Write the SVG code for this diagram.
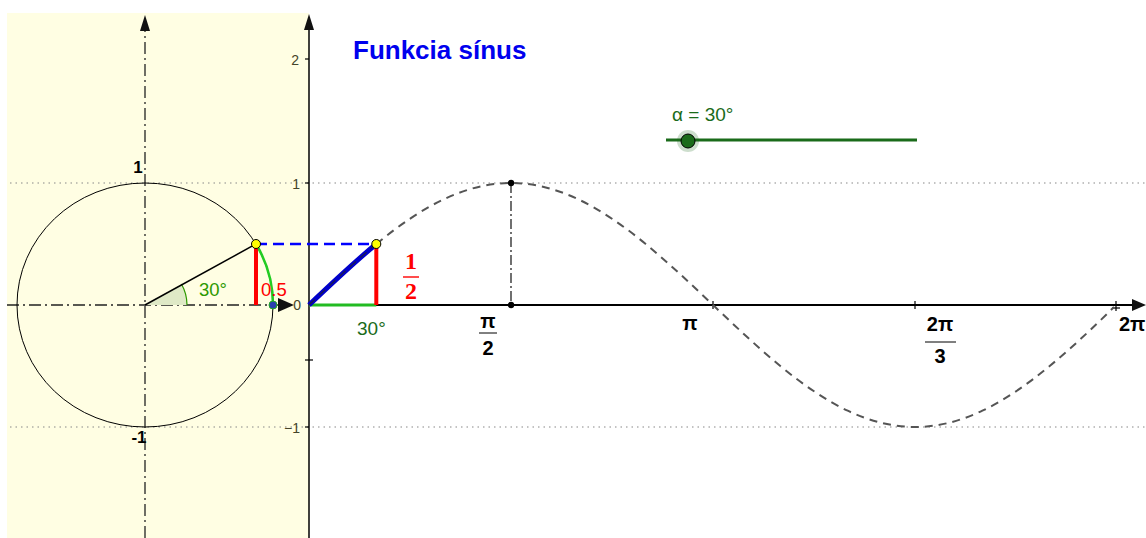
<svg xmlns="http://www.w3.org/2000/svg" width="1146" height="538" viewBox="0 0 1146 538">
<style>
.sans{font-family:"Liberation Sans",Arial,sans-serif}
.serif{font-family:"Liberation Serif","Times New Roman",serif}
.dot{stroke:#888;stroke-width:1.2;stroke-dasharray:1.5 4;fill:none}
.dashdot{stroke:#222;stroke-width:1.3;stroke-dasharray:12 4 2 4;fill:none}
.tick{stroke:#000;stroke-width:1.2}
.ylab{font-size:14px;fill:#44442a}
.xlab{font-size:20px;font-weight:bold;fill:#000}
.sine{fill:none;stroke:#555;stroke-width:2;stroke-dasharray:8 6}
</style>
<rect x="0" y="0" width="1146" height="538" fill="#fff"/>
<g id="unit-circle-panel">
<rect x="7" y="13" width="302" height="525" fill="#fffee3"/>
</g>
<g id="gridlines">
<line class="dot" x1="10" y1="183" x2="1146" y2="183"/>
<line class="dot" x1="10" y1="427" x2="1146" y2="427"/>
</g>
<g id="circle-axes">
<line class="dashdot" x1="7" y1="305" x2="280" y2="305"/>
<path d="M278,298 L294,305 L278,312 z" fill="#111"/>
<line class="dashdot" x1="145" y1="538" x2="145" y2="28"/>
<path d="M140,31 L145,15 L150,31 z" fill="#111"/>
<text class="sans" x="138" y="173" font-size="17" font-weight="bold" text-anchor="middle">1</text>
<text class="sans" x="139" y="443" font-size="17" font-weight="bold" text-anchor="middle">-1</text>
</g>
<g id="main-axes">
<line x1="309" y1="538" x2="309" y2="20" stroke="#000" stroke-width="1.5"/>
<path d="M304,30 L309,14 L314,30 z" fill="#111"/>
<line x1="309" y1="305" x2="1140" y2="305" stroke="#000" stroke-width="1.8"/>
<path d="M1132,299 L1146,305 L1132,311 z" fill="#111"/>
<line class="tick" x1="305" y1="59" x2="309" y2="59"/>
<line class="tick" x1="305" y1="183" x2="309" y2="183"/>
<line class="tick" x1="305" y1="427" x2="309" y2="427"/>
<line class="tick" x1="305" y1="360" x2="313" y2="360"/>
<text class="sans ylab" x="299" y="65" text-anchor="end">2</text>
<text class="sans ylab" x="300" y="189" text-anchor="end">1</text>
<text class="sans ylab" x="301" y="310" text-anchor="end">0</text>
<text class="sans ylab" x="300" y="433" text-anchor="end">−1</text>
<line class="tick" x1="713" y1="301" x2="713" y2="309"/>
<line class="tick" x1="915" y1="301" x2="915" y2="309"/>
<line class="tick" x1="1116" y1="301" x2="1116" y2="311"/>
<line class="tick" x1="1112" y1="308" x2="1120" y2="308"/>
<g id="label-pi-2">
<text class="sans xlab" x="488" y="328" text-anchor="middle">π</text>
<line x1="479" y1="333" x2="497" y2="333" stroke="#000" stroke-width="1"/>
<text class="sans xlab" x="488" y="355" text-anchor="middle">2</text>
</g>
<text id="label-pi" class="sans xlab" x="690" y="330" text-anchor="middle">π</text>
<g id="label-2pi-3">
<text class="sans xlab" x="940" y="331" text-anchor="middle">2π</text>
<line x1="925" y1="342" x2="956" y2="342" stroke="#000" stroke-width="1"/>
<text class="sans xlab" x="940" y="363" text-anchor="middle">3</text>
</g>
<text id="label-2pi" class="sans xlab" x="1119" y="331">2π</text>
</g>
<g id="connectors">
<ellipse cx="145" cy="305" rx="128" ry="122" fill="none" stroke="#000" stroke-width="1"/>
<path d="M145,305 L187,305 A42 42 0 0 0 181.4 284 Z" fill="#dfe9c6"/>
<path d="M187,305 A42 42 0 0 0 181.4 284" fill="none" stroke="#2e9900" stroke-width="1.2"/>
<line x1="145" y1="305" x2="256" y2="244" stroke="#000" stroke-width="1.5"/>
<path d="M256,244 A128 122 0 0 1 273 305" fill="none" stroke="#22cc22" stroke-width="2.5"/>
<line x1="256" y1="244" x2="256" y2="305" stroke="#ff0000" stroke-width="4"/>
<line x1="256" y1="244" x2="376.3" y2="244" stroke="#0000ff" stroke-width="2.5" stroke-dasharray="11 6"/>
<path class="sine" d="M376.3,244 C398.7,225.56 421.3,209.95 443.7,199.3 C466.1,188.65 488.6,183 511,183 C533.4,183 555.9,188.65 578.3,199.3 C600.7,209.95 623.3,225.56 645.7,244 C668.1,262.44 690.6,283.71 713,305 C735.4,326.29 757.9,347.56 780.3,366 C802.7,384.44 825.3,400.05 847.7,410.7 C870.1,421.35 892.6,427 915,427 C937.4,427 960,421.35 982.4,410.7 C1004.8,400.05 1027.3,384.44 1049.7,366 C1072.1,347.56 1094.6,326.29 1114,307"/>
<line x1="511" y1="183" x2="511" y2="305" stroke="#111" stroke-width="1.2" stroke-dasharray="10 3 2 3"/>
<line x1="309" y1="305" x2="376.3" y2="305" stroke="#22bb22" stroke-width="3"/>
<path d="M309,305 C331.4,283.71 353.9,262.44 376.3,244" fill="none" stroke="#0000cc" stroke-width="5"/>
<path d="M309,305 C331.4,283.71 353.9,262.44 376.3,244" fill="none" stroke="#1a1a55" stroke-width="1.5" stroke-dasharray="8 6"/>
<line x1="376.3" y1="244" x2="376.3" y2="305" stroke="#ff0000" stroke-width="4"/>
</g>
<g id="points">
<circle cx="511" cy="183" r="3.2" fill="#000"/>
<circle cx="511" cy="305" r="3.2" fill="#000"/>
<circle cx="273" cy="305" r="4" fill="#2a3fb0" stroke="#22aa22" stroke-width="1"/>
<circle cx="256" cy="244" r="4.5" fill="#ffff00" stroke="#000" stroke-width="1"/>
<circle cx="376.3" cy="244" r="4.5" fill="#ffff00" stroke="#000" stroke-width="1"/>
</g>
<g id="labels">
<text class="sans" x="353" y="59" font-size="26" font-weight="bold" fill="#0000ee">Funkcia sínus</text>
<text class="sans" x="199" y="296" font-size="18.5" fill="#2e9900">30°</text>
<text class="sans" x="261" y="296" font-size="18.5" fill="#ff0000">0.5</text>
<text class="sans" x="357" y="335" font-size="19" fill="#1a6b1a">30°</text>
<text class="serif" x="411" y="269" font-size="24" font-weight="bold" fill="#ff0000" text-anchor="middle">1</text>
<line x1="403" y1="277" x2="419" y2="277" stroke="#ff0000" stroke-width="1.4"/>
<text class="serif" x="411" y="299" font-size="24" font-weight="bold" fill="#ff0000" text-anchor="middle">2</text>
</g>
<g id="slider">
<text class="sans" x="672" y="121" font-size="19" fill="#1a6b1a">α = 30°</text>
<line x1="666" y1="140" x2="917" y2="140" stroke="#1a6b1a" stroke-width="3"/>
<circle cx="688" cy="141" r="11" fill="#1a6b1a" opacity="0.22"/>
<circle cx="688" cy="141" r="7" fill="#1a6b1a" stroke="#000" stroke-width="1"/>
</g>
</svg>
